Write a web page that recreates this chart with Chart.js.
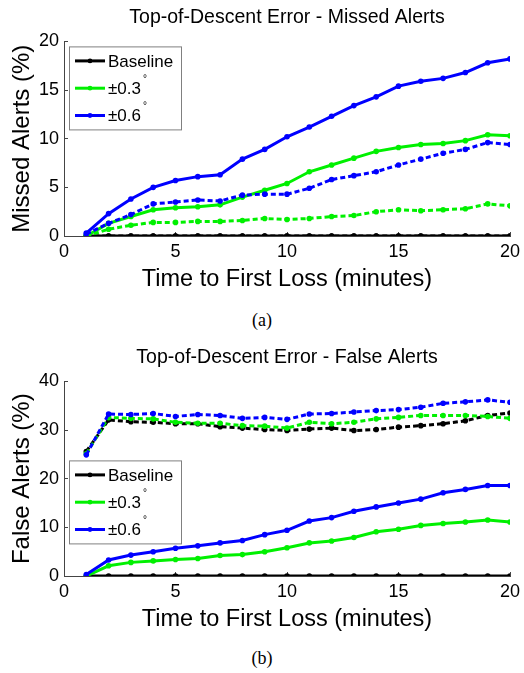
<!DOCTYPE html>
<html>
<head>
<meta charset="utf-8">
<script src="https://cdn.jsdelivr.net/npm/chart.js@4.4.1/dist/chart.umd.min.js"></script>
<style>
    body { margin: 0; background: #fff; width: 524px; height: 673px; position: relative; overflow: hidden; }
    .box { position: absolute; left: 0; width: 524px; height: 300px; }
    .cap { position: absolute; left: 0; width: 524px; text-align: center; font-family: "Liberation Serif", serif; font-size: 18px; line-height: 20px; }
</style>
</head>
<body>
<div class="box" style="top:0"><canvas id="missedChart"></canvas></div>
<div class="cap" style="top:310px">(a)</div>
<div class="box" style="top:340px"><canvas id="falseChart"></canvas></div>
<div class="cap" style="top:648px">(b)</div>
<script>
const minutes = [1, 2, 3, 4, 5, 6, 7, 8, 9, 10, 11, 12, 13, 14, 15, 16, 17, 18, 19, 20];
const legendLabels = ['Baseline', '±0.3°', '±0.6°'];

// (a) missed alerts, %
const missedBase = [0, 0, 0, 0, 0, 0, 0, 0, 0, 0, 0, 0, 0, 0, 0, 0, 0, 0, 0, 0];
const missedBaseDash = [0, 0, 0, 0, 0, 0, 0, 0, 0, 0, 0, 0, 0, 0, 0, 0, 0, 0, 0, 0];
const missed03 = [0, 1.3, 2.0, 2.7, 2.9, 3.0, 3.2, 4.0, 4.7, 5.4, 6.6, 7.3, 8.0, 8.7, 9.1, 9.4, 9.5, 9.8, 10.4, 10.3];
const missed03Dash = [0, 0.7, 1.1, 1.4, 1.4, 1.5, 1.5, 1.6, 1.8, 1.7, 1.8, 2.0, 2.1, 2.5, 2.7, 2.6, 2.7, 2.8, 3.3, 3.1];
const missed06 = [0.3, 2.3, 3.8, 5.0, 5.7, 6.1, 6.3, 7.9, 8.9, 10.2, 11.2, 12.3, 13.4, 14.3, 15.4, 15.9, 16.2, 16.8, 17.8, 18.2];
const missed06Dash = [0.2, 1.3, 2.2, 3.3, 3.5, 3.7, 3.6, 4.2, 4.3, 4.3, 4.9, 5.8, 6.2, 6.6, 7.3, 7.9, 8.5, 8.9, 9.6, 9.4];

// (b) false alerts, %
const falseBase = [0, 0, 0, 0, 0, 0, 0, 0, 0, 0, 0, 0, 0, 0, 0, 0, 0, 0, 0, 0];
const falseBaseDash = [25.6, 32.1, 31.7, 31.6, 31.3, 31.3, 30.7, 30.4, 30.1, 29.9, 30.2, 30.4, 29.9, 30.1, 30.6, 30.9, 31.3, 31.9, 33.0, 33.5];
const false03 = [0, 2.1, 2.8, 3.1, 3.4, 3.6, 4.2, 4.4, 5.0, 5.8, 6.8, 7.2, 7.9, 9.1, 9.6, 10.4, 10.8, 11.1, 11.5, 11.1];
const false03Dash = [25.1, 32.6, 32.4, 32.3, 31.6, 31.4, 31.4, 30.9, 30.8, 30.4, 31.6, 31.3, 31.6, 32.3, 32.6, 33.0, 33.0, 33.0, 32.8, 32.4];
const false06 = [0.3, 3.3, 4.3, 5.0, 5.7, 6.2, 6.8, 7.3, 8.5, 9.4, 11.3, 12.0, 13.3, 14.2, 15.0, 15.8, 17.1, 17.8, 18.6, 18.6];
const false06Dash = [24.9, 33.3, 33.2, 33.4, 32.8, 33.2, 33.0, 32.4, 32.6, 32.2, 33.3, 33.4, 33.7, 34.0, 34.2, 34.7, 35.5, 35.8, 36.2, 35.7];

const colors = ['#000000', '#00f000', '#0000ff'];
const AXIS = '#444';
const FONT = '"Liberation Sans", Arial, sans-serif';

function series(values, color, dashed) {
    return {
        data: values.map((v, i) => ({ x: minutes[i], y: v })),
        borderColor: color,
        backgroundColor: color,
        borderWidth: 3,
        borderDash: dashed ? [5, 3] : [],
        pointRadius: 2.8,
        pointBorderWidth: 0,
        pointBackgroundColor: color,
        tension: 0
    };
}

// bordered legend box inside the plot, like the matlab one
const boxLegend = {
    id: 'boxLegend',
    afterDraw(chart, args, opts) {
        const c = chart.ctx;
        const area = chart.chartArea;
        const x = area.left + 5, y = area.top + opts.top;
        c.save();
        c.fillStyle = '#fff';
        c.fillRect(x, y, 112, 83);
        c.strokeStyle = '#808080';
        c.lineWidth = 1;
        c.strokeRect(x + 0.5, y + 0.5, 112, 83);
        legendLabels.forEach((label, i) => {
            const ly = y + 14.5 + i * 27.3;
            c.strokeStyle = colors[i];
            c.lineWidth = 3;
            c.beginPath();
            c.moveTo(x + 6, ly);
            c.lineTo(x + 36, ly);
            c.stroke();
            c.fillStyle = colors[i];
            c.beginPath();
            c.arc(x + 21, ly, 2.4, 0, Math.PI * 2);
            c.fill();
            c.fillStyle = '#000';
            c.font = '17px ' + FONT;
            c.textBaseline = 'middle';
            const main = label.replace('°', '');
            c.fillText(main, x + 39, ly + 1);
            if (label.endsWith('°')) {
                const w = c.measureText(main).width;
                c.font = '10px ' + FONT;
                c.fillText('°', x + 41 + w, ly - 9);
            }
        });
        c.restore();
    }
};

function makeChart(id, title, yTitle, yMax, yStep, legendTop, sets) {
    new Chart(document.getElementById(id), {
        type: 'line',
        data: { datasets: sets },
        plugins: [boxLegend],
        options: {
            responsive: true,
            maintainAspectRatio: false,
            animation: false,
            layout: { padding: { top: 0, right: 14, bottom: 0, left: 0 } },
            scales: {
                x: {
                    type: 'linear',
                    min: 0,
                    max: 20,
                    afterFit: s => { s.height = 64; s.paddingLeft = 0; s.paddingRight = 0; },
                    border: { display: true, color: AXIS, width: 1 },
                    grid: { drawOnChartArea: false, tickLength: -4, color: AXIS },
                    ticks: { stepSize: 5, padding: 9.5, color: '#000', font: { family: FONT, size: 18 } },
                    title: {
                        display: true,
                        text: 'Time to First Loss (minutes)',
                        color: '#000',
                        font: { family: FONT, size: 23.5 },
                        padding: { top: 0, bottom: 6.6 }
                    }
                },
                y: {
                    min: 0,
                    max: yMax,
                    afterFit: s => { s.width = 64; },
                    border: { display: true, color: AXIS, width: 1 },
                    grid: { drawOnChartArea: false, tickLength: -4, color: AXIS },
                    ticks: { stepSize: yStep, padding: 9, color: '#000', font: { family: FONT, size: 18 } },
                    title: {
                        display: true,
                        text: yTitle,
                        color: '#000',
                        font: { family: FONT, size: 24 },
                        padding: { top: 7.6, bottom: 0 }
                    }
                }
            },
            plugins: {
                legend: { display: false },
                tooltip: { enabled: false },
                title: {
                    display: true,
                    fullSize: false,
                    text: title,
                    color: '#000',
                    font: { family: FONT, size: 19.5, weight: 'normal' },
                    padding: { top: 6, bottom: 12 }
                },
                boxLegend: { top: legendTop }
            }
        }
    });
}

// first dataset ends up on top
makeChart('missedChart', 'Top-of-Descent Error - Missed Alerts', 'Missed Alerts (%)', 20, 5, 5, [
    series(missed06Dash, colors[2], true),
    series(missed06, colors[2], false),
    series(missed03Dash, colors[1], true),
    series(missed03, colors[1], false),
    series(missedBaseDash, colors[0], true),
    series(missedBase, colors[0], false)
]);

makeChart('falseChart', 'Top-of-Descent Error - False Alerts', 'False Alerts (%)', 40, 10, 79, [
    series(false06Dash, colors[2], true),
    series(false06, colors[2], false),
    series(false03Dash, colors[1], true),
    series(false03, colors[1], false),
    series(falseBaseDash, colors[0], true),
    series(falseBase, colors[0], false)
]);
</script>
</body>
</html>
